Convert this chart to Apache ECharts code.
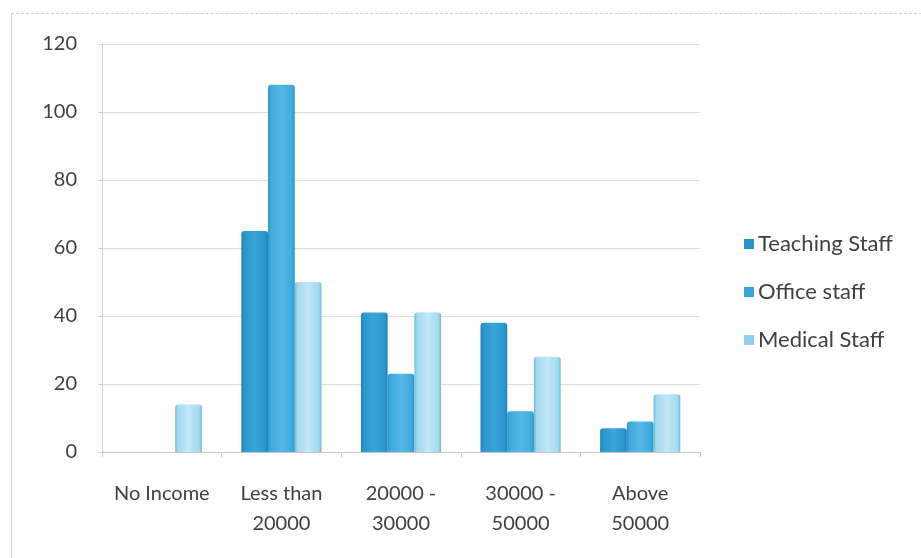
<!DOCTYPE html>
<html>
<head>
<meta charset="utf-8">
<script src="https://cdn.jsdelivr.net/npm/echarts@6/dist/echarts.min.js"></script>
<style>
  html, body { margin: 0; padding: 0; background: #ffffff; }
  #frame { position: absolute; left: 11px; top: 13px; width: 940px; height: 560px; border-left: 1px solid #d6d6d6; border-top: 1px dashed #cfcfd6; }
  #chart { position: absolute; left: 0; top: 0; width: 921px; height: 558px; }
</style>
</head>
<body>
<div id="frame"></div>
<div id="chart"></div>
<script>
// Income bands on the category axis
const categories = ['No Income', 'Less than\n20000', '20000 -\n30000', '30000 -\n50000', 'Above\n50000'];
// Number of respondents per staff group
const teachingStaff = [0, 65, 41, 38, 7];
const officeStaff = [0, 108, 23, 12, 9];
const medicalStaff = [14, 50, 41, 28, 17];
const seriesNames = ['Teaching Staff', 'Office staff', 'Medical Staff'];
const yTicks = [0, 20, 40, 60, 80, 100, 120];

// Cylinder-like shading across the width of each bar
function shade(edge, base, light) {
  return new echarts.graphic.LinearGradient(0, 0, 1, 0, [
    { offset: 0, color: edge },
    { offset: 0.1, color: base },
    { offset: 0.5, color: light },
    { offset: 0.9, color: base },
    { offset: 1, color: edge }
  ]);
}

const palette = [
  { edge: '#1f7fb4', base: '#2b95cd', light: '#3aa5d9', legend: '#2a8fca' },
  { edge: '#2a93c6', base: '#3eaadd', light: '#56b9e5', legend: '#3aa6dc' },
  { edge: '#6fb9d9', base: '#a3d9ef', light: '#c2e7f6', legend: '#8fd0ea' }
];

const values = [teachingStaff, officeStaff, medicalStaff];

const chart = echarts.init(document.getElementById('chart'), null, { renderer: 'canvas' });
chart.setOption({
  animation: false,
  backgroundColor: 'transparent',
  textStyle: { fontFamily: 'Lato, "Open Sans", sans-serif' },
  grid: { left: 102, right: 221, top: 44, bottom: 106, containLabel: false },
  legend: {
    orient: 'vertical',
    left: 739,
    top: 228,
    itemWidth: 10,
    itemHeight: 10,
    itemGap: 26,
    icon: 'rect',
    textStyle: { fontSize: 22, lineHeight: 22, color: '#404040', fontFamily: 'Lato, sans-serif', padding: [0, 0, 0, -1] },
    data: seriesNames.map((n, i) => ({ name: n, itemStyle: { color: palette[i].legend } }))
  },
  xAxis: {
    type: 'category',
    data: categories,
    axisLine: { lineStyle: { color: '#c8c8c8', width: 1 } },
    axisTick: { show: true, length: 5, lineStyle: { color: '#c8c8c8' } },
    axisLabel: { color: '#404040', fontSize: 20, margin: 27, lineHeight: 30, interval: 0 }
  },
  yAxis: {
    type: 'value',
    min: yTicks[0],
    max: yTicks[yTicks.length - 1],
    interval: yTicks[1] - yTicks[0],
    axisLine: { show: true, lineStyle: { color: '#d0d0d0', width: 1 } },
    axisTick: { show: true, length: 4, lineStyle: { color: '#d0d0d0' } },
    axisLabel: { color: '#404040', fontSize: 20, margin: 25 },
    splitLine: { lineStyle: { color: '#dcdcdc', width: 1 } }
  },
  series: seriesNames.map((name, i) => ({
    name: name,
    type: 'bar',
    data: values[i],
    barGap: '0%',
    barCategoryGap: '33%',
    itemStyle: {
      color: shade(palette[i].edge, palette[i].base, palette[i].light),
      borderWidth: 0,
      borderRadius: [3, 3, 0, 0]
    }
  }))
});
</script>
</body>
</html>
